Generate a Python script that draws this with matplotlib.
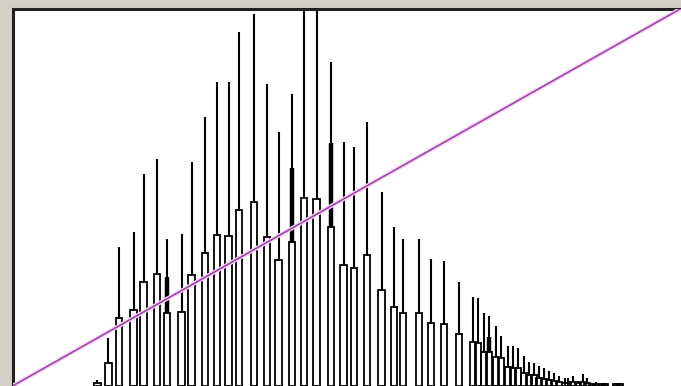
"""Levels-style histogram with a linear tone curve drawn over it"""
import matplotlib

matplotlib.use("Agg")
import matplotlib.pyplot as plt

# histogram groups: level of each spike, spike height and the lower bar round it
spike_levels = [
    32.4, 36.6, 40.5, 46.2, 50.0, 55.0, 58.8, 64.5, 68.3, 73.3,
    77.9, 82.4, 86.3, 92.0, 97.0, 101.5, 106.5, 111.1, 116.0, 121.4,
    126.3, 130.2, 135.1, 140.8, 145.4, 148.9, 155.0, 159.6, 164.5, 170.2,
    175.6, 177.5, 179.8, 181.7, 184.4, 186.3, 188.9, 190.9, 192.8, 195.0,
    197.0, 198.9, 200.8, 202.7, 204.6, 206.5, 208.4, 210.7, 211.8, 213.7,
    215.7, 217.6, 219.1, 221.0, 222.5, 224.8, 226.0, 230.2, 231.7,
]
spike_counts = [
    6, 48, 139, 154, 212, 227, 147, 152, 224, 269,
    304, 304, 354, 372, 302, 254, 292, 420, 420, 324,
    244, 239, 264, 194, 159, 147, 147, 127, 125, 104,
    89, 88, 73, 70, 60, 50, 40, 40, 38, 30,
    24, 23, 20, 18, 15, 13, 10, 8, 8, 10,
    5, 12, 8, 3, 4, 3, 3, 3, 3,
]
bar_counts = [
    3, 23, 68, 76, 104, 112, 73, 74, 111, 133,
    151, 150, 176, 184, 149, 126, 144, 188, 187, 159,
    121, 118, 131, 96, 79, 73, 73, 63, 62, 52,
    44, 43, 34, 34, 29, 28, 19, 18, 18, 13,
    11, 11, 8, 7, 6, 5, 4, 3, 3, 4,
    3, 4, 3, 2, 2, 2, 2, 2, 2,
]
# a few spikes have a doubled (thicker) stretch above the bar
shoulder_levels = [58.8, 106.5, 121.4, 181.7]
shoulder_counts = [109, 218, 243, 49]

# tone curve (input level -> output level)
curve_in = [0, 255]
curve_out = [0, 255]

W, H = 681, 386
fig = plt.figure(figsize=(W / 100, H / 100), dpi=100, facecolor="#d4d0c8")
ax = fig.add_axes([12.5 / W, 0, (W - 12.5) / W, (H - 8.5) / H])
ax.set_facecolor("white")

ax.bar(spike_levels, bar_counts, width=2.4, bottom=0, fill=False,
       edgecolor="black", linewidth=1.3)
ax.vlines(spike_levels, bar_counts, spike_counts, color="black", linewidth=1.5)
shoulder_base = [bar_counts[spike_levels.index(lv)] for lv in shoulder_levels]
ax.vlines(shoulder_levels, shoulder_base, shoulder_counts, color="black",
          linewidth=3.2)

ax.set_xlim(0, 255)
ax.set_ylim(0, 377)
ax.set_xticks([])
ax.set_yticks([])
for side in ("bottom", "right"):
    ax.spines[side].set_visible(False)
for side in ("top", "left"):
    ax.spines[side].set_color("#202020")
    ax.spines[side].set_linewidth(2.2)

ax2 = ax.twinx()
ax2.plot(curve_in, curve_out, color="#f4d4f4", linewidth=3.0, solid_capstyle="butt")
ax2.plot(curve_in, curve_out, color="#a03ca8", linewidth=1.1)
ax2.set_xlim(0, 255)
ax2.set_ylim(0, 255)
ax2.axis("off")

fig.savefig("out.png", dpi=100, facecolor=fig.get_facecolor())
